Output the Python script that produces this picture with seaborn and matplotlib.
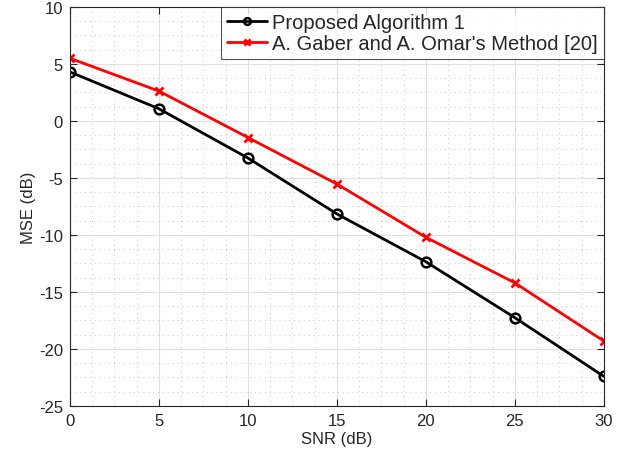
import matplotlib
matplotlib.use("Agg")
import matplotlib.pyplot as plt
import seaborn as sns
import numpy as np
from matplotlib.ticker import MultipleLocator

snr = [0, 5, 10, 15, 20, 25, 30]
proposed = [4.3, 1.07, -3.25, -8.15, -12.35, -17.25, -22.4]
gaber = [5.5, 2.62, -1.45, -5.53, -10.2, -14.2, -19.3]
label_proposed = "Proposed Algorithm 1"
label_gaber = "A. Gaber and A. Omar's Method [20]"

sns.set_theme(style="white")
plt.rcParams['font.family'] = ['Liberation Sans', 'DejaVu Sans']
plt.rcParams['axes.unicode_minus'] = False

fig = plt.figure(figsize=(6.25, 4.56), dpi=100)
ax = fig.add_axes([0.112, 0.1075, 0.854, 0.875])

sns.lineplot(x=snr, y=proposed, ax=ax, color='black', linewidth=2, marker='o',
             markersize=7, markerfacecolor='none', markeredgecolor='black',
             markeredgewidth=1.8, label=label_proposed)
sns.lineplot(x=snr, y=gaber, ax=ax, color='red', linewidth=2, marker='x',
             markersize=6, markeredgecolor='red', markeredgewidth=2,
             label=label_gaber)

ax.set_xlim(0, 30)
ax.set_ylim(-25, 10)
ax.xaxis.set_major_locator(MultipleLocator(5))
ax.yaxis.set_major_locator(MultipleLocator(5))
ax.xaxis.set_minor_locator(MultipleLocator(1.25))
ax.yaxis.set_minor_locator(MultipleLocator(1.25))
ax.grid(which='major', color='#e0e0e0', linestyle='-', linewidth=0.8)
ax.grid(which='minor', color='#c8c8c8', linestyle=(0, (1, 4)), linewidth=0.7)
ax.set_axisbelow(True)

ax.tick_params(which='major', direction='in', length=5, top=True, right=True,
               bottom=True, left=True, labelsize=12, colors='#262626', width=0.8,
               pad=5)
ax.tick_params(which='minor', length=0)
for s in ax.spines.values():
    s.set_color('#262626')
    s.set_linewidth(0.8)

ax.set_xlabel('SNR (dB)', fontsize=12, labelpad=2)
ax.set_ylabel('MSE (dB)', fontsize=12, labelpad=2)

leg = ax.legend(loc='upper right', fontsize=14.5, frameon=True, fancybox=False,
                edgecolor='#262626', borderaxespad=0, handlelength=2.0,
                handletextpad=0.25, borderpad=0.3, labelspacing=0.12,
                markerscale=0.7)
leg.get_frame().set_linewidth(0.8)

fig.savefig('out.png', dpi=100)
